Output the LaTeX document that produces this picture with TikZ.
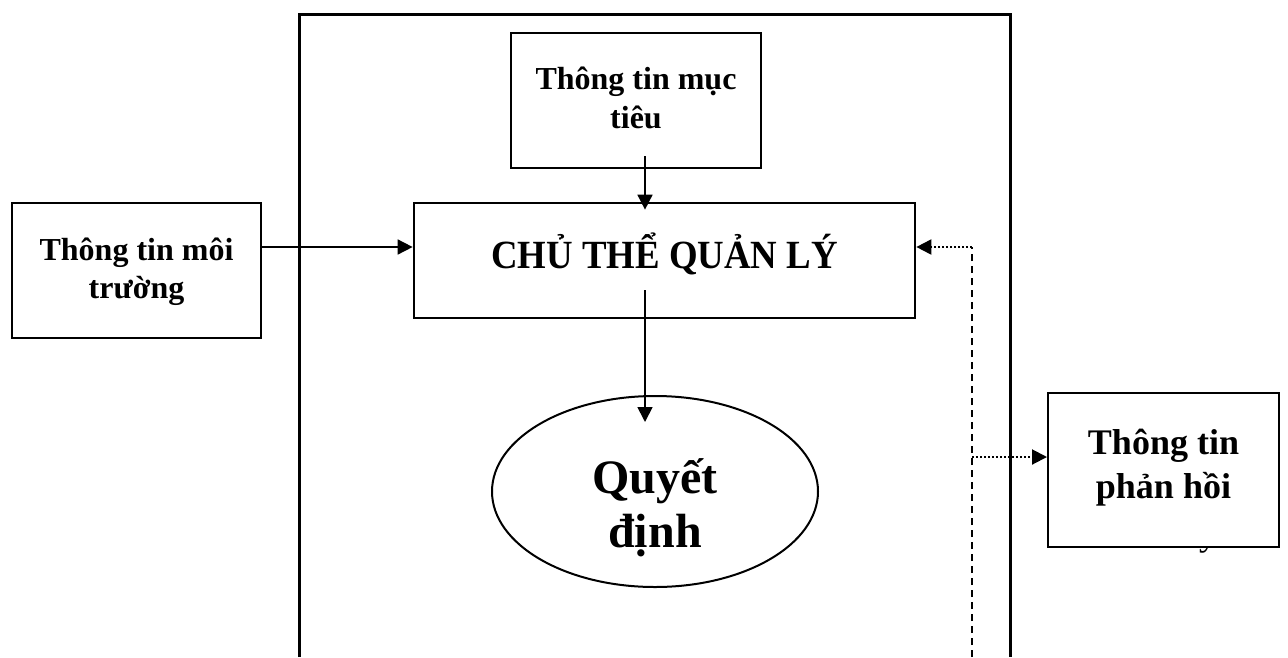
\documentclass[tikz,border=0pt]{standalone}
\usepackage{fontspec}
\setmainfont{Liberation Serif}
\newfontfamily\narrowserif[FakeStretch=0.92]{Liberation Serif}
\usetikzlibrary{arrows.meta,shapes.geometric}

\begin{document}
\begin{tikzpicture}[x=1pt,y=-1pt,
  box/.style={draw, line width=2pt, fill=white, inner sep=0pt, align=center, font=\bfseries},
  mainbox/.style={box, line width=2.7pt},
  frameline/.style={line width=3pt},
  arr/.style={line width=1.7pt, -{Triangle[length=15pt,width=15pt]}},
  dotarr/.style={line width=2pt, dash pattern=on 2pt off 2pt, -{Triangle[length=15pt,width=15pt]}},
  backline/.style={line width=2.2pt, dash pattern=on 7.5pt off 4.5pt}
]
\useasboundingbox (0,0) rectangle (1288,657);

% outer frame, open at the bottom
\draw[frameline] (299,657) -- (299,14) -- (1010,14) -- (1010,657);

% helper positions for the connectors
\coordinate (axis) at (645,0);
\coordinate (row) at (0,247);
\coordinate (fbrow) at (0,457);
\coordinate (back) at (972,657);

% boxes (text height/depth place the last baseline of each label)
\node[box, minimum width=250pt, minimum height=135pt,
      text height=60pt, text depth=5pt,
      font=\bfseries\fontsize{32}{39}\selectfont] (goal) at (636,100.5)
  {Thông tin mục\\tiêu};

\node[box, minimum width=249pt, minimum height=135pt,
      text height=60pt, text depth=5pt,
      font=\bfseries\fontsize{32}{38}\selectfont] (env) at (136.5,270.5)
  {Thông tin môi\\trường};

\node[mainbox, minimum width=501pt, minimum height=115pt,
      text height=27pt, text depth=12pt,
      font=\narrowserif\bfseries\fontsize{40}{46}\selectfont] (chu) at (664.5,260.5)
  {CHỦ THỂ QUẢN LÝ};

\node[box, ellipse, inner sep=0pt, minimum width=326pt, minimum height=191pt,
      text height=113pt, text depth=2pt,
      font=\bfseries\fontsize{48}{54}\selectfont] (dec) at (655,491.5)
  {Quyết\\định};

% letter partly covered by the feedback box
\node[anchor=base, inner sep=0pt, font=\fontsize{36}{40}\selectfont] (tail) at (1208,545) {y};

\node[box, minimum width=231pt, minimum height=154pt,
      text height=60pt, text depth=4pt,
      font=\bfseries\fontsize{36}{44}\selectfont] (fb) at (1163.5,470)
  {Thông tin\\phản hồi};

% connectors
\draw[arr] ([yshift=13pt]goal.south -| axis) -- ([yshift=-8pt]chu.north -| axis);
\draw[arr] (env.east |- row) -- (chu.west |- row);
\draw[arr] ([yshift=29pt]chu.south -| axis) -- ([yshift=-27pt]dec.north -| axis);

% feedback loop
\draw[backline] (back) -- (back |- row);
\draw[dotarr] (back |- row) -- (chu.east |- row);
\draw[dotarr] (back |- fbrow) -- (fb.west |- fbrow);
\end{tikzpicture}
\end{document}
